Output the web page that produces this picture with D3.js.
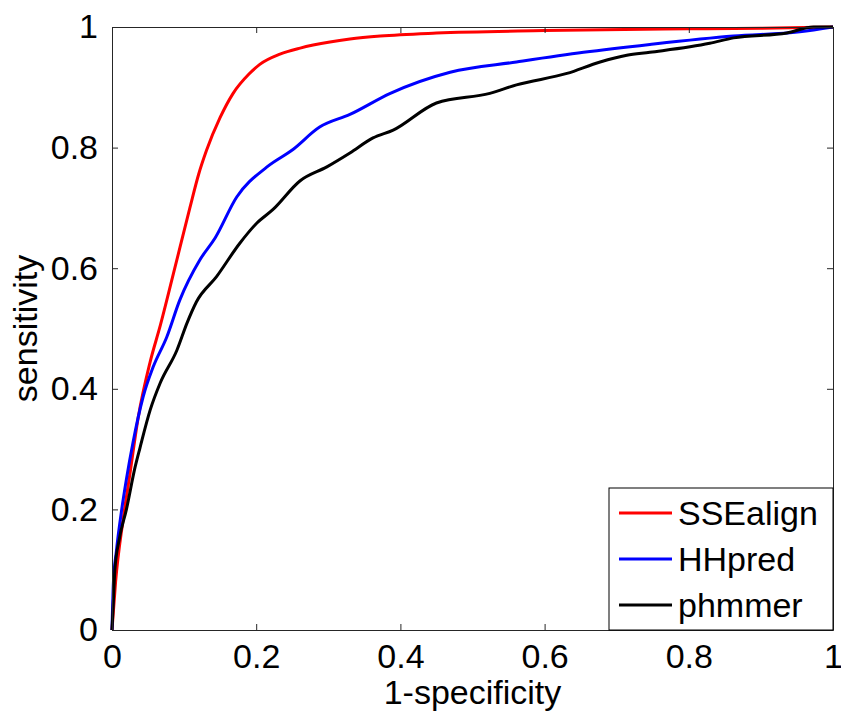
<!DOCTYPE html>
<html>
<head>
<meta charset="utf-8">
<script src="https://cdn.jsdelivr.net/npm/d3@7"></script>
<style>
  body { margin: 0; background: #fff; }
  svg { display: block; font-family: "Liberation Sans", Arial, sans-serif; }
</style>
</head>
<body>
<svg id="chart" width="841" height="715"></svg>
<script>
// ROC curves, [1-specificity, sensitivity]
const sseAlign = [[0,0],[0.005,0.08],[0.015,0.18],[0.025,0.26],[0.036,0.35],[0.053,0.445],[0.067,0.505],
  [0.085,0.59],[0.108,0.70],[0.120,0.755],[0.131,0.795],[0.150,0.85],[0.168,0.89],[0.19,0.922],[0.205,0.938],
  [0.233,0.955],[0.261,0.965],[0.279,0.970],[0.33,0.980],[0.372,0.985],[0.45,0.99],[0.6,0.994],
  [0.8,0.997],[0.9,0.998],[1,1]]

const hhPred = [[0,0],[0.002,0.08],[0.006,0.13],[0.0135,0.20],[0.02,0.25],[0.029,0.31],[0.043,0.386],
  [0.057,0.436],[0.076,0.486],[0.094,0.547],[0.122,0.614],[0.143,0.650],[0.173,0.718],[0.215,0.768],
  [0.250,0.796],[0.288,0.834],[0.330,0.855],[0.386,0.890],[0.469,0.925],[0.561,0.942],[0.654,0.958],
  [0.746,0.971],[0.862,0.985],[0.954,0.992],[1,1]]

const phmmer = [[0,0],[0.002,0.05],[0.004,0.10],[0.010,0.15],[0.020,0.20],[0.032,0.27],[0.039,0.303],
  [0.053,0.365],[0.067,0.41],[0.090,0.464],[0.104,0.509],[0.117,0.544],[0.145,0.586],[0.177,0.641],
  [0.201,0.675],[0.223,0.697],[0.261,0.745],[0.298,0.768],[0.330,0.791],[0.362,0.816],[0.390,0.829],
  [0.450,0.874],[0.524,0.890],[0.561,0.904],[0.631,0.923],[0.677,0.942],[0.714,0.953],[0.746,0.958],
  [0.829,0.973],[0.862,0.982],[0.936,0.990],[0.973,1.0],[1,1]]

const seriesNames = ["SSEalign", "HHpred", "phmmer"]
const seriesColors = ["#ff0000", "#0000ff", "#000000"]
const tickValues = [0, 0.2, 0.4, 0.6, 0.8, 1]

const svg = d3.select("#chart")
const plotLeft = 112, plotRight = 833, plotTop = 27, plotBottom = 630
const fontSize = 34

const x = d3.scaleLinear().domain([0, 1]).range([plotLeft, plotRight])
const y = d3.scaleLinear().domain([0, 1]).range([plotBottom, plotTop])

const fmt = d => d === 0 || d === 1 ? String(d) : d3.format(".1f")(d)

// curves
const line = d3.line().x(d => x(d[0])).y(d => y(d[1])).curve(d3.curveMonotoneX)
const series = [sseAlign, hhPred, phmmer]

svg.append("g")
  .selectAll("path")
  .data(series)
  .enter().append("path")
    .attr("d", line)
    .attr("fill", "none")
    .attr("stroke", (d, i) => seriesColors[i])
    .attr("stroke-width", 3)
    .attr("stroke-linejoin", "round")

// axes box with inward ticks
const axisColor = "#262626"
const tickLen = 6

function styleAxis(g) {
  g.attr("font-family", null).attr("font-size", null)
  g.select(".domain").attr("stroke", axisColor).attr("stroke-width", 1)
  g.selectAll(".tick line").attr("stroke", axisColor)
  g.selectAll(".tick text").attr("fill", "#000").attr("font-size", fontSize)
}

svg.append("g")
  .attr("transform", `translate(0,${plotBottom})`)
  .call(d3.axisBottom(x).tickValues(tickValues).tickFormat(fmt).tickSizeInner(-tickLen).tickSizeOuter(0).tickPadding(14))
  .call(styleAxis)

svg.append("g")
  .attr("transform", `translate(0,${plotTop})`)
  .call(d3.axisTop(x).tickValues(tickValues).tickFormat("").tickSizeInner(-tickLen).tickSizeOuter(0))
  .call(styleAxis)

svg.append("g")
  .attr("transform", `translate(${plotLeft},0)`)
  .call(d3.axisLeft(y).tickValues(tickValues).tickFormat(fmt).tickSizeInner(-tickLen).tickSizeOuter(0).tickPadding(14))
  .call(styleAxis)

svg.append("g")
  .attr("transform", `translate(${plotRight},0)`)
  .call(d3.axisRight(y).tickValues(tickValues).tickFormat("").tickSizeInner(-tickLen).tickSizeOuter(0))
  .call(styleAxis)

// axis labels
svg.append("text")
  .attr("x", (plotLeft + plotRight) / 2)
  .attr("y", 704)
  .attr("text-anchor", "middle")
  .attr("font-size", fontSize)
  .text("1-specificity")

svg.append("text")
  .attr("transform", `translate(37,${(plotTop + plotBottom) / 2}) rotate(-90)`)
  .attr("text-anchor", "middle")
  .attr("font-size", fontSize)
  .text("sensitivity")

// legend
const legend = svg.append("g").attr("transform", "translate(609,488)")

legend.append("rect")
  .attr("width", plotRight - 609)
  .attr("height", plotBottom - 488)
  .attr("fill", "#fff")
  .attr("stroke", "#000")
  .attr("stroke-width", 1)

const rows = legend.selectAll("g.row")
  .data(seriesNames)
  .enter().append("g")
    .attr("class", "row")
    .attr("transform", (d, i) => `translate(0,${25 + i * 46})`)

rows.append("line")
  .attr("x1", 10).attr("x2", 63)
  .attr("stroke", (d, i) => seriesColors[i])
  .attr("stroke-width", 3)

rows.append("text")
  .attr("x", 69)
  .attr("dy", "0.35em")
  .attr("font-size", fontSize)
  .text(d => d)
</script>
</body>
</html>
